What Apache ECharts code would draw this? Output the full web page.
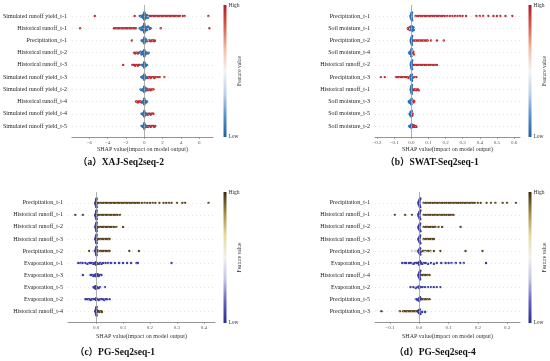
<!DOCTYPE html>
<html><head><meta charset="utf-8">
<script src="https://cdn.jsdelivr.net/npm/echarts@6/dist/echarts.min.js"></script>
<style>html,body{margin:0;padding:0;background:#fff}#c{width:550px;height:361px}</style>
</head><body><div id="c"></div><script>
// ---------- DATA ----------
const captions = ['（a）XAJ-Seq2seq-2', '（b）SWAT-Seq2seq-1', '（c）PG-Seq2seq-1', '（d）PG-Seq2seq-4'];
const axisTitle = 'SHAP value(impact on model output)';
const featureLevels = [0.95, 0.4, 0.05]; // high, mid, low feature value groups

const aFeatures = ['Simulated runoff yield_t-1','Historical runoff_t-1','Precipitation_t-1','Historical runoff_t-2','Historical runoff_t-3','Simulated runoff yield_t-3','Simulated runoff yield_t-2','Historical runoff_t-4','Simulated runoff yield_t-4','Simulated runoff yield_t-5'];
const bFeatures = ['Precipitation_t-1','Soil moisture_t-1','Precipitation_t-2','Soil moisture_t-4','Historical runoff_t-2','Precipitation_t-3','Historical runoff_t-1','Soil moisture_t-3','Soil moisture_t-5','Soil moisture_t-2'];
const cFeatures = ['Precipitation_t-1','Historical runoff_t-1','Historical runoff_t-2','Historical runoff_t-3','Precipitation_t-2','Evaporation_t-1','Evaporation_t-3','Evaporation_t-5','Evaporation_t-2','Historical runoff_t-4'];
const dFeatures = ['Precipitation_t-1','Historical runoff_t-1','Historical runoff_t-2','Historical runoff_t-3','Precipitation_t-2','Evaporation_t-1','Historical runoff_t-4','Evaporation_t-2','Precipitation_t-5','Precipitation_t-3'];

const aTicks = [-6,-4,-2,0,2,4,6];
const bTicks = [-0.2,-0.1,0,0.1,0.2,0.3,0.4,0.5,0.6];
const cTicks = [0,0.1,0.2,0.3,0.4];
const dTicks = [-0.1,0,0.1,0.2,0.3];

// SHAP values per row, split by feature-value group
const aHigh = [
 [-5.4,-1.05,0.5,0.65,0.8,0.95,1.1,1.25,1.4,1.55,1.7,1.85,2.0,2.15,2.3,2.45,2.6,2.75,2.9,3.05,3.2,3.35,3.5,3.7,3.9,4.2,4.4,7.0],
 [-7.0,-3.3,-3.15,-3.0,-2.85,-2.7,-2.55,-2.4,-2.25,-2.1,-1.95,-1.8,-1.65,-1.5,-1.35,-1.2,-1.05,-0.9,0.55,0.7,1.8,7.1],
 [-1.35,0.5,0.6,0.7,0.8,0.9,1.0,1.1,1.15],
 [-1.1,-1.0,-0.9,-0.8,-0.7,-0.6],
 [-2.3,-1.3,-1.2,-1.1,-1.0,-0.9,-0.8,-0.7,-0.6,-0.5],
 [0.3,0.4,0.5,0.6,0.7,0.8,0.9,1.0,1.1,1.2,1.3,1.5,1.7,2.2],
 [0.3,0.4,0.5,0.6,0.7,0.8,0.9,1.0],
 [-0.9,-0.8,-0.7,-0.6,-0.5,-0.4,-0.3],
 [0.3,0.4,0.5,0.6,0.7,0.8,0.9,1.0],
 [0.3,0.4,0.5,0.6,0.7,0.8,0.9,1.0,1.1,1.2]
];
const aMid = [[0.1,0.2,0.3,0.35],[-0.3,-0.2,-0.1,0,0,0.1,0.1,0.2,0.3,0.4,0.5],[0.2,0.35],[-0.4,-0.3],[],[],[],[],[],[]];
const aLow = [
 [-0.5,-0.4,-0.3,-0.25,-0.2,-0.15,-0.15,-0.1,-0.1,-0.05,-0.05,-0.05,0,0,0,0,0.05,0.05,0.05,0.1,0.1,0.15,0.2,0.25,0.3,0.4],
 [-0.5,-0.4,-0.3,-0.3,-0.2,-0.2,-0.15,-0.1,-0.1,-0.05,-0.05,0,0,0,0,0.05,0.05,0.1,0.1,0.15,0.2,0.2,0.3,0.3,0.4,0.5,0.6],
 [-0.3,-0.2,-0.15,-0.1,-0.05,-0.05,0,0,0,0,0.05,0.05,0.1,0.15,0.2,0.3],
 [-0.5,-0.4,-0.3,-0.25,-0.2,-0.15,-0.1,-0.1,-0.05,-0.05,0,0,0,0,0.05,0.05,0.1,0.1,0.15,0.2,0.3,0.4,0.5],
 [-0.3,-0.2,-0.15,-0.1,-0.05,-0.05,0,0,0,0,0.05,0.05,0.1,0.15,0.2,0.3],
 [-0.35,-0.25,-0.2,-0.15,-0.1,-0.05,-0.05,0,0,0,0,0.05,0.05,0.1,0.15,0.2],
 [-0.4,-0.3,-0.2,-0.15,-0.1,-0.05,-0.05,0,0,0,0,0.05,0.05,0.1,0.15,0.2,0.25],
 [-0.2,-0.15,-0.1,-0.05,-0.05,0,0,0,0,0.05,0.05,0.1,0.15,0.2,0.3],
 [-0.3,-0.2,-0.15,-0.1,-0.05,-0.05,0,0,0,0,0.05,0.05,0.1,0.15,0.2],
 [-0.3,-0.2,-0.15,-0.1,-0.05,-0.05,0,0,0,0,0.05,0.05,0.1,0.15,0.2]
];

const bHigh = [
 [0.025,0.035,0.045,0.055,0.065,0.075,0.085,0.095,0.105,0.115,0.125,0.135,0.145,0.155,0.165,0.175,0.185,0.195,0.21,0.225,0.24,0.255,0.27,0.285,0.3,0.32,0.38,0.4,0.42,0.45,0.48,0.5,0.52,0.55,0.59],
 [-0.02,-0.018,-0.015,-0.012,-0.01,-0.008],
 [0.008,0.016,0.024,0.032,0.04,0.048,0.056,0.064,0.072,0.08,0.088,0.096,0.115,0.15,0.19],
 [0.002,0.004,0.006,0.008,0.01,0.012,0.015],
 [0.01,0.018,0.026,0.034,0.042,0.05,0.058,0.066,0.074,0.082,0.09,0.1,0.11,0.12,0.13,0.14,0.15],
 [-0.178,-0.155,-0.09,-0.082,-0.074,-0.066,-0.058,-0.05,-0.042,-0.035,-0.028,-0.022,-0.016,-0.01,-0.005,0.01,0.02,0.03],
 [0.004,0.009,0.014,0.019,0.024,0.029,0.034,0.039,0.044],
 [0.003,0.006,0.009,0.012,0.015,0.018],
 [-0.004,-0.002,0,0.002,0.004,0.006,0.008],
 [0.002,0.005,0.008,0.011,0.014,0.018,0.022,0.026,0.03]
];
const bMid = [[],[-0.006,-0.004,0.003],[],[-0.003,0,0.003,0.005],[],[-0.004,0.004],[],[-0.003,0,0.004],[-0.002,0.001],[]];
const bLow = [
 [-0.004,-0.003,-0.002,-0.002,-0.001,-0.001,0,0,0,0,0,0.001,0.001,0.002,0.002,0.003,0.004,0.005],
 [-0.005,-0.003,-0.002,0,0,0.002,0.004,0.006,0.008,0.01,0.012,0.015],
 [-0.003,-0.002,-0.002,-0.001,-0.001,0,0,0,0,0.001,0.001,0.002,0.002,0.003,0.004,0.005],
 [-0.012,-0.01,-0.008,-0.006,-0.004,-0.002,0,0,0.002],
 [-0.003,-0.002,-0.002,-0.001,-0.001,0,0,0,0,0.001,0.001,0.002,0.002,0.003,0.004,0.005],
 [-0.004,-0.003,-0.002,-0.001,0,0,0,0.001,0.002,0.003,0.005,0.008],
 [-0.003,-0.002,-0.002,-0.001,-0.001,0,0,0,0,0.001,0.001,0.002,0.002,0.003,0.004],
 [-0.015,-0.012,-0.009,-0.006,-0.004,-0.002,0,0,0.002],
 [-0.01,-0.008,-0.006,-0.004,0,0.003],
 [-0.012,-0.009,-0.006,-0.004,-0.002,0,0,0.002]
];

const cHigh = [
 [0.01,0.016,0.022,0.028,0.034,0.04,0.046,0.052,0.058,0.064,0.07,0.076,0.082,0.088,0.094,0.1,0.106,0.112,0.118,0.124,0.13,0.136,0.142,0.148,0.154,0.16,0.17,0.18,0.19,0.2,0.21,0.22,0.235,0.25,0.26,0.27,0.28,0.3,0.32,0.33,0.417],
 [-0.077,-0.049,0.01,0.016,0.022,0.028,0.034,0.04,0.046,0.052,0.058,0.064,0.07,0.076,0.08,0.089],
 [0.01,0.016,0.022,0.028,0.034,0.04,0.046,0.052,0.058,0.066,0.075,0.1],
 [0.01,0.016,0.022,0.028,0.034,0.04,0.046,0.05],
 [-0.026,0.01,0.016,0.022,0.028,0.034,0.04,0.046,0.05,0.123,0.159],
 [],[],[],[],
 [0.004,0.008,0.012,0.016,0.02,0.022]
];
const cMid = [[],[],[],[],[-0.01,0.005],[-0.03,-0.01,0,0.01,0.02,0.04,0.06,0.09],[-0.008,0.004,0.012],[-0.004,0.002,0.008],[-0.02,0,0.01,0.03],[]];
const cLow = [
 [-0.003,-0.002,-0.002,-0.001,-0.001,0,0,0,0,0,0.001,0.001,0.002,0.002,0.003,0.004],
 [-0.003,-0.002,-0.002,-0.001,-0.001,0,0,0,0,0,0.001,0.001,0.002,0.002,0.003,0.004],
 [-0.003,-0.002,-0.001,-0.001,0,0,0,0,0.001,0.001,0.002,0.002,0.003,0.004],
 [-0.003,-0.002,-0.001,-0.001,0,0,0,0,0.001,0.001,0.002,0.002,0.003,0.004],
 [-0.003,-0.002,-0.001,-0.001,0,0,0,0,0.001,0.001,0.002,0.002,0.003,0.004],
 [-0.066,-0.058,-0.05,-0.04,-0.032,-0.025,-0.02,-0.015,-0.01,-0.006,-0.003,0,0,0,0.003,0.006,0.01,0.015,0.02,0.026,0.035,0.045,0.055,0.07,0.085,0.1,0.115,0.13,0.15,0.155,0.28],
 [-0.049,-0.02,-0.015,-0.01,-0.006,-0.003,0,0,0,0.003,0.006,0.01,0.015,0.02],
 [-0.01,-0.006,-0.003,0,0,0,0.003,0.006,0.01,0.015,0.033],
 [-0.04,-0.035,-0.03,-0.025,-0.02,-0.015,-0.01,-0.005,0,0,0.005,0.01,0.015,0.02,0.025,0.03,0.035,0.04,0.05],
 [-0.003,-0.002,-0.001,-0.001,0,0,0,0,0.001,0.001,0.002,0.002,0.003,0.004]
];

const dHigh = [
 [0.015,0.021,0.027,0.033,0.039,0.045,0.051,0.057,0.063,0.069,0.075,0.081,0.087,0.093,0.099,0.105,0.111,0.117,0.123,0.129,0.135,0.141,0.147,0.153,0.159,0.165,0.171,0.177,0.183,0.19,0.2,0.21,0.23,0.245,0.26,0.285,0.3,0.33],
 [-0.083,-0.048,-0.025,0.015,0.021,0.027,0.033,0.039,0.045,0.051,0.057,0.063,0.069,0.075,0.081,0.087,0.093,0.099,0.105,0.111,0.117],
 [0.015,0.021,0.027,0.033,0.039,0.045,0.051,0.055,0.066,0.078,0.141],
 [0.015,0.021,0.027,0.033,0.039,0.045,0.05],
 [0.01,0.016,0.022,0.03,0.038,0.05,0.072,0.158,0.216],
 [],
 [0.004,0.01,0.016,0.022,0.028,0.035],
 [],
 [0.004,0.01,0.016,0.022,0.028,0.035],
 [-0.129,-0.066,-0.055,-0.05,-0.045,-0.04,-0.035,-0.03,-0.025,-0.02,-0.015,-0.01,-0.005]
];
const dMid = [[],[],[],[],[-0.025,-0.015,-0.008,0.005,0.02,0.04],[-0.04,-0.02,0,0.01,0.03,0.05,0.08,0.12],[],[-0.025,-0.01,0.004,0.015,0.045],[-0.014,-0.008],[0.01,0.02]];
const dLow = [
 [-0.003,-0.002,-0.002,-0.001,-0.001,0,0,0,0,0,0.001,0.001,0.002,0.002,0.003,0.004],
 [-0.003,-0.002,-0.002,-0.001,-0.001,0,0,0,0,0,0.001,0.001,0.002,0.002,0.003,0.004],
 [-0.003,-0.002,-0.001,-0.001,0,0,0,0,0.001,0.001,0.002,0.002,0.003,0.004],
 [-0.003,-0.002,-0.001,-0.001,0,0,0,0,0.001,0.001,0.002,0.002,0.003,0.004],
 [-0.003,-0.002,-0.001,0,0,0,0,0.001,0.002,0.003,0.004,0.005],
 [-0.058,-0.05,-0.045,-0.035,-0.028,-0.02,-0.015,-0.01,-0.006,-0.003,0,0,0,0.003,0.006,0.01,0.016,0.022,0.03,0.04,0.05,0.06,0.075,0.09,0.1,0.11,0.125,0.14,0.152,0.228],
 [-0.003,-0.002,-0.001,-0.001,0,0,0,0,0.001,0.001,0.002,0.002,0.003,0.004],
 [-0.03,-0.02,-0.012,-0.006,0,0,0.006,0.012,0.02,0.03,0.04,0.05,0.06,0.072],
 [-0.01,-0.006,-0.003,0,0,0,0.003,0.006],
 [-0.004,-0.003,-0.002,-0.001,0,0,0,0.001,0.002,0.004,0.01,0.02]
];

// ---------- STYLE / LAYOUT ----------
const rdbu = ['#1f5fa8','#5b93c9','#bcd3e8','#f4f4f4','#f2bca6','#d6604d','#b2182b'];
const pubr = ['#2a2a94','#6565be','#c4c4e6','#f0f0f0','#e6dba0','#a88e48','#3a2a0e'];
const SERIF = '"Liberation Serif","Times New Roman",serif';

const panels = [
 {feat:aFeatures, hi:aHigh, mid:aMid, lo:aLow, ticks:aTicks, dec:0, min:-7.9, max:7.5, left:68, top:5, width:145, height:132, cmap:rdbu, cbx:223.5, cap:[121,163], nameGap:9},
 {feat:bFeatures, hi:bHigh, mid:bMid, lo:bLow, ticks:bTicks, dec:1, min:-0.212, max:0.635, left:375, top:5, width:145, height:132, cmap:rdbu, cbx:528.5, cap:[432,163], nameGap:9},
 {feat:cFeatures, hi:cHigh, mid:cMid, lo:cLow, ticks:cTicks, dec:1, min:-0.104, max:0.441, left:68, top:192, width:147, height:130, cmap:pubr, cbx:223.5, cap:[115,353], nameGap:11},
 {feat:dFeatures, hi:dHigh, mid:dMid, lo:dLow, ticks:dTicks, dec:1, min:-0.151, max:0.344, left:375, top:192, width:145, height:130, cmap:pubr, cbx:528.5, cap:[435,353], nameGap:11}
];

// beeswarm layout (shap-style layering of points sharing an x bin)
function swarm(p) {
  const nb = 110, w = (p.max - p.min) / nb, out = [];
  for (let r = 0; r < p.feat.length; r++) {
    const pts = [];
    p.hi[r].forEach(v => pts.push([v, featureLevels[0]]));
    p.mid[r].forEach(v => pts.push([v, featureLevels[1]]));
    p.lo[r].forEach(v => pts.push([v, featureLevels[2]]));
    const items = pts.map((q, i) => ({x:q[0], f:q[1], q:Math.round((q[0]-p.min)/w), i}));
    const sorted = items.slice().sort((a, b) => a.q - b.q || a.i - b.i);
    let layer = 0, last = null, maxL = 0;
    sorted.forEach(it => {
      if (it.q !== last) layer = 0;
      it.l = Math.ceil(layer/2) * ((layer % 2) * 2 - 1);
      layer++; last = it.q; maxL = Math.max(maxL, Math.abs(it.l));
    });
    const step = maxL ? Math.min(0.075, 0.36 / maxL) : 0;
    items.forEach(it => out.push([it.x, r + it.l * step, it.f]));
  }
  return out;
}

const grid = [], xAxis = [], yAxis = [], series = [], visualMap = [], graphic = [];
const fmtMinus = s => s.replace('-', '\u2212');
panels.forEach((p, i) => {
  grid.push({left:p.left, top:p.top, width:p.width, height:p.height, containLabel:false});
  xAxis.push({type:'value', gridIndex:i, min:p.min, max:p.max,
    name:axisTitle, nameLocation:'middle', nameGap:p.nameGap,
    nameTextStyle:{fontSize:6, color:'#333', fontFamily:SERIF},
    axisLine:{show:true, onZero:false, lineStyle:{color:'#7a7a7a', width:0.8}},
    axisTick:{show:true, length:2, customValues:p.ticks, lineStyle:{color:'#7a7a7a', width:0.6}},
    axisLabel:{customValues:p.ticks, fontSize:5, color:'#555', fontFamily:SERIF, margin:3,
      formatter: v => fmtMinus(p.dec ? Number(v).toFixed(1) : String(Math.round(v)))},
    splitLine:{show:false}});
  yAxis.push({type:'value', gridIndex:i, inverse:true, min:-0.9, max:9.9,
    axisLine:{show:false}, axisTick:{show:false}, splitLine:{show:false},
    axisLabel:{customValues:[0,1,2,3,4,5,6,7,8,9], fontSize:6, color:'#222', fontFamily:SERIF, margin:5,
      formatter: v => p.feat[Math.round(v)] || ''}});
  const ml = p.feat.map((_, r) => ({yAxis:r, lineStyle:{color:'#c8c8c8', width:0.5, type:[1,3]}}));
  ml.unshift({xAxis:0, lineStyle:{color:'#9a9a9a', width:0.8, type:'solid'}});
  series.push({type:'scatter', xAxisIndex:i, yAxisIndex:i, symbolSize:2.4, data:swarm(p),
    itemStyle:{opacity:1}, silent:true, animation:false,
    markLine:{silent:true, symbol:'none', label:{show:false}, data:ml, animation:false}});
  visualMap.push({type:'continuous', show:false, seriesIndex:i, dimension:2, min:0, max:1, inRange:{color:p.cmap}});
  // colour bar
  const stops = p.cmap.slice().reverse().map((c, k, arr) => ({offset:k/(arr.length-1), color:c}));
  const cbTop = p.top, cbH = p.height + (i >= 2 ? 1 : 0) - (i >= 2 ? 0 : 0);
  graphic.push({type:'rect', x:p.cbx, y:cbTop, shape:{width:3, height:cbH}, style:{fill:new echarts.graphic.LinearGradient(0,0,0,1,stops)}, silent:true});
  graphic.push({type:'text', x:p.cbx+5, y:cbTop+1, style:{text:'High', fontSize:5.5, fontFamily:SERIF, fill:'#333', align:'left', verticalAlign:'middle'}});
  graphic.push({type:'text', x:p.cbx+5, y:cbTop+cbH, style:{text:'Low', fontSize:5.5, fontFamily:SERIF, fill:'#333', align:'left', verticalAlign:'middle'}});
  graphic.push({type:'text', x:p.cbx+16.5, y:cbTop+cbH/2, rotation:Math.PI/2, style:{text:'Feature value', fontSize:5.5, fontFamily:SERIF, fill:'#333', align:'center', verticalAlign:'middle'}});
  graphic.push({type:'text', x:p.cap[0], y:p.cap[1], style:{text:captions[i], fontSize:9.5, fontWeight:'bold', fontFamily:'"Liberation Serif","Noto Sans CJK SC",serif', fill:'#111', align:'center', verticalAlign:'middle'}});
});

const chart = echarts.init(document.getElementById('c'), null, {renderer:'canvas'});
chart.setOption({animation:false, backgroundColor:'#fff', grid, xAxis, yAxis, series, visualMap, graphic});
</script></body></html>
